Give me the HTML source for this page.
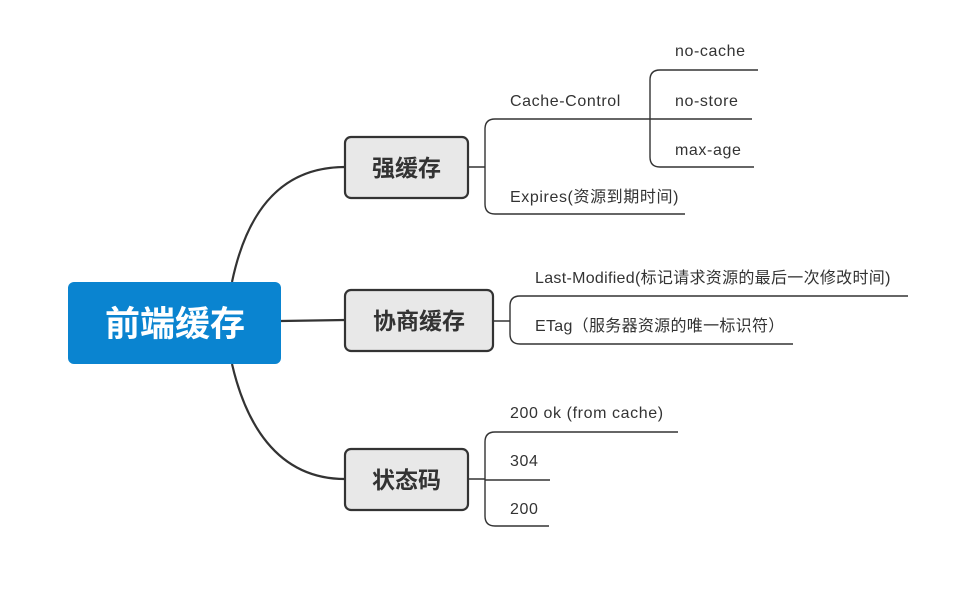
<!DOCTYPE html>
<html><head><meta charset="utf-8"><style>
html,body{margin:0;padding:0;background:#fff;}
svg{display:block;}
text{font-family:"Liberation Sans","Noto Sans CJK SC",sans-serif;}
</style></head><body>
<svg width="978" height="601" viewBox="0 0 978 601" xmlns="http://www.w3.org/2000/svg">
<g fill="none" stroke="#333" stroke-width="2.2">
<path d="M232,282 C245,220 275,167 345,167"/>
<path d="M281,321 L345,320"/>
<path d="M232,364 C245,420 275,479 345,479"/>
</g>
<g fill="none" stroke="#333" stroke-width="1.4">
<path d="M468,167 H485"/>
<path d="M495,119 Q485,119 485,129 V204 Q485,214 495,214 H685"/>
<path d="M495,119 H752"/>
<path d="M660,70 Q650,70 650,80 V157 Q650,167 660,167 H754"/>
<path d="M660,70 H758"/>
<path d="M493,321 H510"/>
<path d="M520,296 Q510,296 510,306 V334 Q510,344 520,344 H793"/>
<path d="M520,296 H908"/>
<path d="M468,479 H485"/>
<path d="M495,432 Q485,432 485,442 V516 Q485,526 495,526 H549"/>
<path d="M495,432 H678"/>
<path d="M485,480 H550"/>
</g>
<rect x="68" y="282" width="213" height="82" rx="6" fill="#0a84d0"/>
<text x="175" y="336" font-size="35" font-weight="bold" fill="#fff" text-anchor="middle">前端缓存</text>
<g fill="#e8e8e8" stroke="#333" stroke-width="2.2">
<rect x="345" y="137" width="123" height="61" rx="6"/>
<rect x="345" y="290" width="148" height="61" rx="6"/>
<rect x="345" y="449" width="123" height="61" rx="6"/>
</g>
<g font-size="23" font-weight="bold" fill="#333" text-anchor="middle">
<text x="406.5" y="176">强缓存</text>
<text x="419" y="329">协商缓存</text>
<text x="406.5" y="488">状态码</text>
</g>
<g font-size="16" fill="#333" letter-spacing="0.6">
<text x="675" y="56">no-cache</text>
<text x="675" y="106">no-store</text>
<text x="675" y="155">max-age</text>
<text x="510" y="106">Cache-Control</text>
<text x="510" y="202">Expires(资源到期时间)</text>
<text x="535" y="283" letter-spacing="0.3">Last-Modified(标记请求资源的最后一次修改时间)</text>
<text x="535" y="331" letter-spacing="0.3">ETag（服务器资源的唯一标识符）</text>
<text x="510" y="418">200 ok (from cache)</text>
<text x="510" y="466">304</text>
<text x="510" y="514">200</text>
</g>
</svg>
</body></html>
